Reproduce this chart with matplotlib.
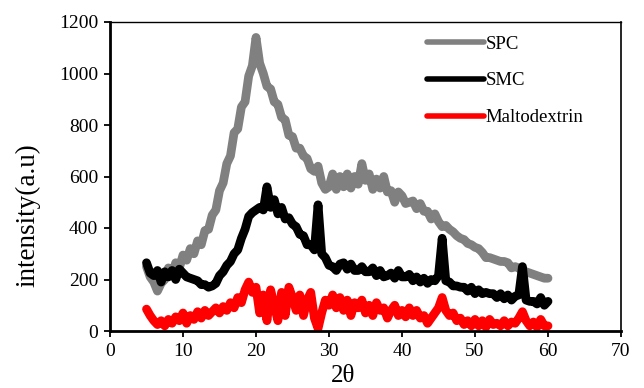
import numpy as np
import matplotlib
matplotlib.use("Agg")
import matplotlib.pyplot as plt

plt.rcParams['font.family'] = ['Liberation Serif', 'DejaVu Serif']

# 2-theta grid (degrees) at 0.5 step from 5 to 60
theta_start, theta_end, theta_step = 5.0, 60.0, 0.5

spc = [250, 210, 190, 155, 185, 200, 245, 220, 265, 245,
       295, 275, 320, 300, 350, 335, 390, 395, 450, 470,
       545, 575, 650, 680, 770, 785, 870, 890, 990, 1030,
       1140, 1040, 1000, 950, 940, 890, 880, 830, 820, 760,
       755, 710, 710, 680, 670, 630, 620, 640, 575, 550,
       560, 610, 550, 600, 560, 610, 555, 600, 570, 650,
       585, 610, 550, 590, 555, 600, 540, 545, 500, 540,
       525, 495, 500, 505, 475, 495, 465, 465, 435, 455,
       425, 405, 410, 395, 385, 370, 360, 355, 340, 335,
       325, 320, 305, 285, 285, 280, 275, 270, 270, 265,
       245, 250, 245, 230, 230, 225, 220, 215, 210, 205,
       205]

smc = [265, 225, 215, 235, 190, 230, 210, 235, 200, 240,
       225, 210, 205, 200, 195, 180, 180, 170, 175, 185,
       215, 230, 255, 270, 300, 315, 360, 395, 445, 460,
       470, 480, 470, 560, 480, 510, 455, 480, 435, 440,
       415, 405, 375, 370, 335, 335, 315, 490, 300, 285,
       255, 250, 235, 260, 265, 240, 260, 235, 235, 250,
       230, 230, 245, 215, 235, 210, 215, 225, 205, 235,
       210, 210, 220, 195, 210, 190, 205, 185, 200, 195,
       215, 360, 195, 190, 175, 175, 170, 170, 155, 170,
       145, 160, 145, 150, 145, 145, 130, 145, 125, 140,
       120, 135, 140, 250, 120, 115, 115, 105, 130, 100,
       115]

maltodextrin = [85, 60, 40, 25, 40, 20, 45, 30, 55, 40,
                70, 30, 60, 45, 75, 50, 80, 60, 75, 90,
                70, 95, 80, 110, 90, 130, 110, 160, 190, 150,
                170, 70, 140, 40, 160, 100, 40, 150, 60, 170,
                130, 80, 140, 60, 120, 150, 50, 10, 70, 120,
                100, 140, 90, 130, 80, 120, 60, 110, 90, 120,
                70, 100, 60, 110, 80, 90, 50, 80, 100, 60,
                80, 55, 90, 60, 80, 50, 60, 30, 50, 70,
                90, 130, 80, 60, 70, 40, 50, 25, 40, 20,
                45, 20, 40, 15, 45, 25, 30, 20, 40, 20,
                35, 30, 50, 75, 40, 20, 35, 15, 45, 20,
                20]

series_names = ['SPC', 'SMC', 'Maltodextrin']
x_ticks = [0, 10, 20, 30, 40, 50, 60, 70]
y_ticks = [0, 200, 400, 600, 800, 1000, 1200]

theta = np.arange(theta_start, theta_end + theta_step / 2, theta_step)

fig = plt.figure(figsize=(6.44, 3.88), dpi=100)
ax = fig.add_axes([110 / 644, 57 / 388, 511 / 644, 309 / 388])

lw = 6.3
ax.plot(theta, spc, color='#808080', lw=lw, solid_joinstyle='round',
        solid_capstyle='round', label=series_names[0])
ax.plot(theta, smc, color='black', lw=lw, solid_joinstyle='round',
        solid_capstyle='round', label=series_names[1])
ax.plot(theta, maltodextrin, color='#ff0000', lw=lw, solid_joinstyle='round',
        solid_capstyle='round', label=series_names[2])

ax.set_xlim(0, 70)
ax.set_ylim(0, 1200)
ax.set_xticks(x_ticks)
ax.set_yticks(y_ticks)
ax.tick_params(axis='both', direction='out', length=4.5, width=1.3,
               labelsize=14, pad=4)
ax.tick_params(axis='x', top=False)
ax.tick_params(axis='y', right=False)

ax.spines['left'].set_linewidth(2.0)
ax.spines['bottom'].set_linewidth(2.0)
ax.spines['top'].set_linewidth(1.0)
ax.spines['right'].set_linewidth(1.2)

leg = ax.legend(loc='upper left', bbox_to_anchor=((420 - 110) / 511, 1 - 6 / 309),
                frameon=False, fontsize=13.5, handlelength=3.0,
                handletextpad=0.1, labelspacing=1.05, borderaxespad=0)
for line in leg.get_lines():
    line.set_linewidth(4)
    line.set_solid_capstyle('round')

fig.text(28 / 644, 1 - 215 / 388, 'intensity(a.u)', rotation=90,
         ha='center', va='center', fontsize=19.5)
fig.text(343 / 644, 1 - 376 / 388, '2θ', ha='center', va='center', fontsize=18)

fig.savefig('out.png', dpi=100)
